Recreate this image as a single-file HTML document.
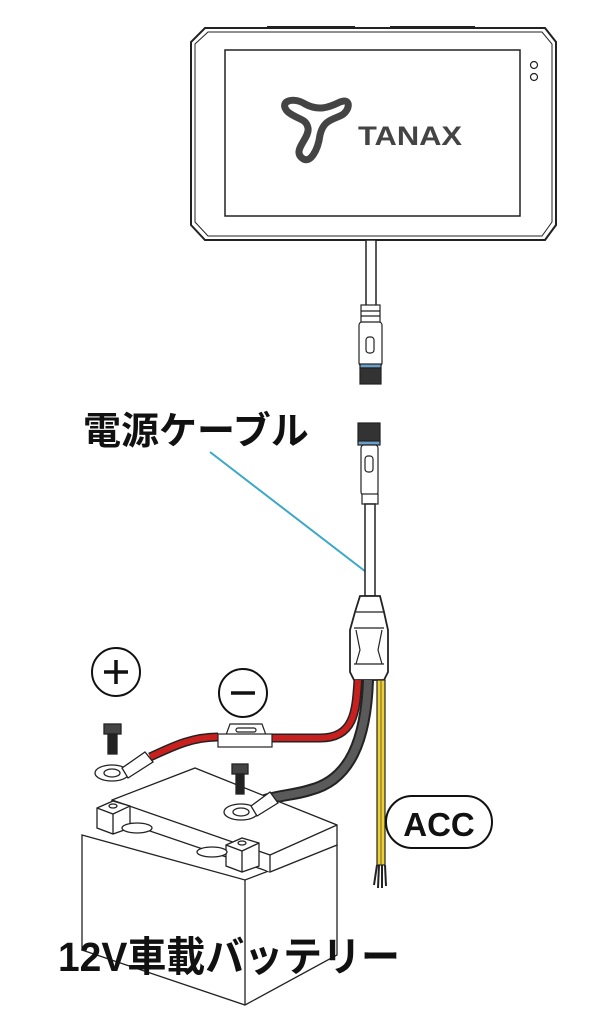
<!DOCTYPE html>
<html><head><meta charset="utf-8"><style>
html,body{margin:0;padding:0;background:#fff;}
svg{display:block}
</style></head><body>
<svg width="600" height="1015" viewBox="0 0 600 1015" xmlns="http://www.w3.org/2000/svg">
<!-- Tablet -->
<g fill="none" stroke="#222" stroke-width="2">
<path d="M205,28 L545,28 L556,42 L556,225 L545,240 L205,240 L191,225 L191,42 Z" fill="#fff"/>
<path d="M208,32 L542,32 L552,44 L552,222 L542,236 L208,236 L195,222 L195,44 Z" stroke-width="1"/>
<rect x="225" y="50" width="295" height="166" stroke-width="1.5"/>
<circle cx="534" cy="65" r="3.5" stroke-width="1.2"/>
<circle cx="534" cy="77" r="3.5" stroke-width="1.2"/>
<path d="M267,27 L355,27 M390,27 L475,27" stroke-width="2"/>
</g>
<!-- logo -->
<path d="M288,112 C278,102 292,96 305,104 C318,111 328,108 340,102 C352,97 350,112 340,116 C330,120 323,122 320,135 C318,150 310,165 302,158 C292,150 310,138 308,128 C306,118 298,120 288,112 Z" fill="none" stroke="#444" stroke-width="7" stroke-linejoin="round"/>
<text x="358" y="145" font-family="Liberation Sans, sans-serif" font-weight="bold" font-size="27" fill="#444" textLength="104" lengthAdjust="spacingAndGlyphs">TANAX</text>
<!-- cable top -->
<rect x="366" y="240" width="10" height="66" fill="#fff" stroke="#222" stroke-width="1.5"/>
<g stroke="#222" stroke-width="1.2" fill="#fff">
<rect x="361" y="305" width="19" height="18"/>
<line x1="361" y1="311" x2="380" y2="311"/><line x1="361" y1="316" x2="380" y2="316"/>
<rect x="359" y="322" width="23" height="44" rx="3"/>
<rect x="366" y="337" width="8" height="16" rx="3"/>
<rect x="360" y="364" width="21" height="4" fill="#6aa0c8"/>
<rect x="360" y="368" width="21" height="16" fill="#333"/>
</g>
<!-- Label -->
<text x="83" y="444" font-family="Liberation Sans, 'Noto Sans CJK JP', sans-serif" font-weight="bold" font-size="38" fill="#111">電源ケーブル</text>
<line x1="210" y1="452" x2="370" y2="575" stroke="#3aa8c8" stroke-width="2"/>
<!-- lower connector -->
<g stroke="#222" stroke-width="1.2" fill="#fff">
<rect x="358" y="423" width="22" height="19" fill="#333"/>
<rect x="358" y="441" width="22" height="4" fill="#6aa0c8"/>
<rect x="361" y="445" width="17" height="50" rx="3"/>
<rect x="365" y="456" width="8" height="16" rx="3"/>
<rect x="362" y="494" width="16" height="10"/>
<rect x="365" y="504" width="10" height="92" stroke-width="1.5"/>
<path d="M360,596 L380,596 L384,612 L388,630 L388,672 L384,680 L354,680 L350,672 L350,630 L355,612 Z" stroke-width="1.8"/>
<path d="M356,612 L384,612 M354,628 L384,628 M354,664 L384,664" />
<path d="M356,630 L360,650 L356,664 M382,630 L378,650 L382,664" fill="none"/>
</g>
<!-- wires -->
<path d="M358,680 C356,710 355,738 320,738 L270,738" fill="none" stroke="#222" stroke-width="9"/>
<path d="M358,680 C356,710 355,738 320,738 L270,738" fill="none" stroke="#c8201e" stroke-width="6"/>
<path d="M218,737 C190,737 170,748 150,757" fill="none" stroke="#222" stroke-width="9"/>
<path d="M218,737 C190,737 170,748 150,757" fill="none" stroke="#c8201e" stroke-width="6"/>
<path d="M368,680 C366,740 350,780 310,790 C295,795 280,795 265,800" fill="none" stroke="#222" stroke-width="12"/>
<path d="M368,680 C366,740 350,780 310,790 C295,795 280,795 265,800" fill="none" stroke="#5a5a5a" stroke-width="8"/>
<rect x="377" y="680" width="8" height="185" fill="#f0d030" stroke="#222" stroke-width="1.2"/>
<line x1="381" y1="680" x2="381" y2="865" stroke="#444" stroke-width="0.8"/>
<path d="M374,885 L377,865 M378,888 L379,865 M382,888 L382,865 M386,886 L385,865" stroke="#222" stroke-width="2"/>
<!-- fuse -->
<g stroke="#222" stroke-width="1.2" fill="#fff">
<path d="M226,735 L230,724 L262,724 L266,735 Z"/>
<rect x="218" y="734" width="54" height="13"/>
<rect x="236" y="728" width="20" height="4" rx="2"/>
</g>
<!-- circles -->
<g fill="#fff" stroke="#111" stroke-width="2">
<circle cx="116" cy="672" r="24"/>
<circle cx="243" cy="693" r="24"/>
</g>
<path d="M104,672 L128,672 M116,660 L116,684" stroke="#111" stroke-width="3.5"/>
<path d="M231,693 L255,693" stroke="#111" stroke-width="3.5"/>
<!-- battery -->
<g stroke="#222" stroke-width="1.3" fill="#fff">
<path d="M82,835 L245,880 L337,845 L337,955 L245,1005 L82,950 Z"/>
<line x1="245" y1="880" x2="245" y2="1005"/>
<path d="M112,800 L195,768 L337,825 L337,845 L270,872 L112,818 Z"/>
<path d="M112,818 L112,800 M270,872 L270,855 L112,800 M270,855 L337,825"/>
<path d="M97,808 L113,801 L130,806 L130,828 L113,834 L97,828 Z"/>
<path d="M97,808 L113,814 L130,806 M113,814 L113,834"/>
<ellipse cx="113" cy="806" rx="4" ry="2"/>
<path d="M226,845 L242,838 L259,843 L259,866 L242,872 L226,866 Z"/>
<path d="M226,845 L242,851 L259,843 M242,851 L242,872"/>
<ellipse cx="242" cy="843" rx="4" ry="2"/>
<ellipse cx="137" cy="828" rx="15" ry="5"/>
<ellipse cx="212" cy="852" rx="15" ry="5"/>
</g>
<!-- terminals -->
<g stroke="#222" stroke-width="1.3" fill="#fff">
<ellipse cx="112" cy="773" rx="17" ry="8"/><ellipse cx="112" cy="773" rx="8" ry="4"/>
<path d="M122,768 L145,752 L153,762 L128,778 Z"/>
<ellipse cx="241" cy="812" rx="17" ry="8"/><ellipse cx="241" cy="812" rx="8" ry="4"/>
<path d="M251,806 L270,792 L278,803 L257,816 Z"/>
<rect x="104" y="724" width="17" height="10" fill="#444"/>
<rect x="108" y="734" width="9" height="20" fill="#222"/>
<rect x="232" y="764" width="16" height="10" fill="#444"/>
<rect x="236" y="774" width="8" height="20" fill="#222"/>
</g>
<!-- ACC -->
<rect x="386" y="796" width="106" height="52" rx="26" fill="#fff" stroke="#111" stroke-width="2"/>
<text x="439" y="836" text-anchor="middle" font-family="Liberation Sans, sans-serif" font-weight="bold" font-size="33" fill="#111">ACC</text>
<!-- battery label -->
<text x="58" y="971" font-family="Liberation Sans, 'Noto Sans CJK JP', sans-serif" font-size="41" font-weight="bold" fill="#111" textLength="342" lengthAdjust="spacingAndGlyphs">12V車載バッテリー</text>
</svg>
</body></html>
